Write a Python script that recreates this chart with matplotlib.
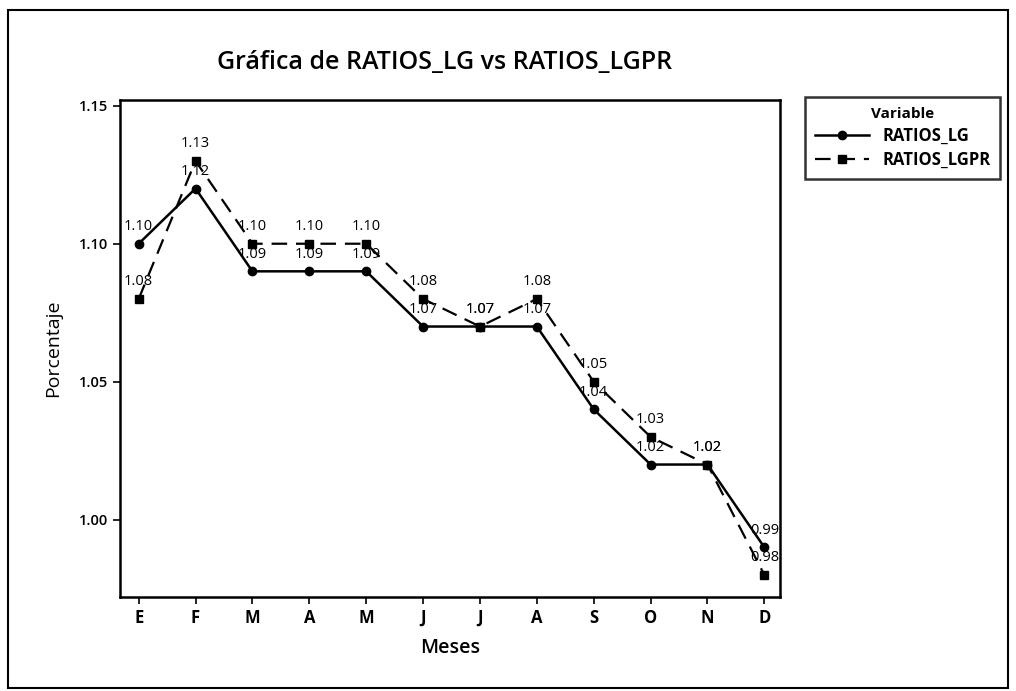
import numpy as np
import matplotlib.pyplot as plt
from matplotlib.patches import Rectangle

# Data
meses = ['E', 'F', 'M', 'A', 'M', 'J', 'J', 'A', 'S', 'O', 'N', 'D']
ratios_lg = [1.10, 1.12, 1.09, 1.09, 1.09, 1.07, 1.07, 1.07, 1.04, 1.02, 1.02, 0.99]
ratios_lgpr = [1.08, 1.13, 1.10, 1.10, 1.10, 1.08, 1.07, 1.08, 1.05, 1.03, 1.02, 0.98]
y_ticks = [1.00, 1.05, 1.10, 1.15]

plt.rcParams['font.family'] = ['Open Sans', 'DejaVu Sans']

fig = plt.figure(figsize=(10.16, 6.91), dpi=100)
ax = fig.add_axes([0.118, 0.136, 0.650, 0.719])

x = np.arange(len(meses))
ax.plot(x, ratios_lg, color='black', lw=1.8, marker='o', ms=6, label='RATIOS_LG')
ax.plot(x, ratios_lgpr, color='black', lw=1.6, ls=(0, (7, 4)), marker='s', ms=6,
        label='RATIOS_LGPR')

# value labels
for xi, v in zip(x, ratios_lg):
    ax.annotate(f'{v:.2f}', (xi, v), xytext=(0, 7), textcoords='offset points',
                ha='center', va='bottom', fontsize=10.5)
for xi, v in zip(x, ratios_lgpr):
    ax.annotate(f'{v:.2f}', (xi, v), xytext=(0, 7), textcoords='offset points',
                ha='center', va='bottom', fontsize=10.5)

ax.set_xlim(-0.33, 11.28)
ax.set_ylim(0.972, 1.152)
ax.set_xticks(x)
ax.set_xticklabels(meses, fontsize=12, fontweight='bold')
ax.set_yticks(y_ticks)
ax.set_yticklabels([f'{t:.2f}' for t in y_ticks], fontsize=10.5, fontweight='semibold')
ax.tick_params(direction='out', length=5, width=1.2)
for s in ax.spines.values():
    s.set_linewidth(1.8)

ax.set_xlabel('Meses', fontsize=14, fontweight='semibold', labelpad=8)
ax.set_ylabel('Porcentaje', fontsize=14, fontweight='medium', labelpad=12)
fig.text(0.438, 0.91, 'Gráfica de RATIOS_LG vs RATIOS_LGPR', ha='center', va='center',
         fontsize=18, fontweight='semibold')

leg = ax.legend(title='Variable', loc='upper left', bbox_to_anchor=(1.038, 1.006),
                frameon=True, fancybox=False, edgecolor='black', fontsize=12,
                title_fontproperties={'weight': 'bold', 'size': 11},
                handlelength=3.2, borderpad=0.6, labelspacing=0.35,
                borderaxespad=0.0)
leg.get_frame().set_linewidth(1.8)
for t in leg.get_texts():
    t.set_fontweight('bold')

# outer border
fig.patches.append(Rectangle((0.008, 0.004), 0.984, 0.982, transform=fig.transFigure,
                             fill=False, edgecolor='black', lw=1.5))

fig.savefig('out.png', dpi=100)
